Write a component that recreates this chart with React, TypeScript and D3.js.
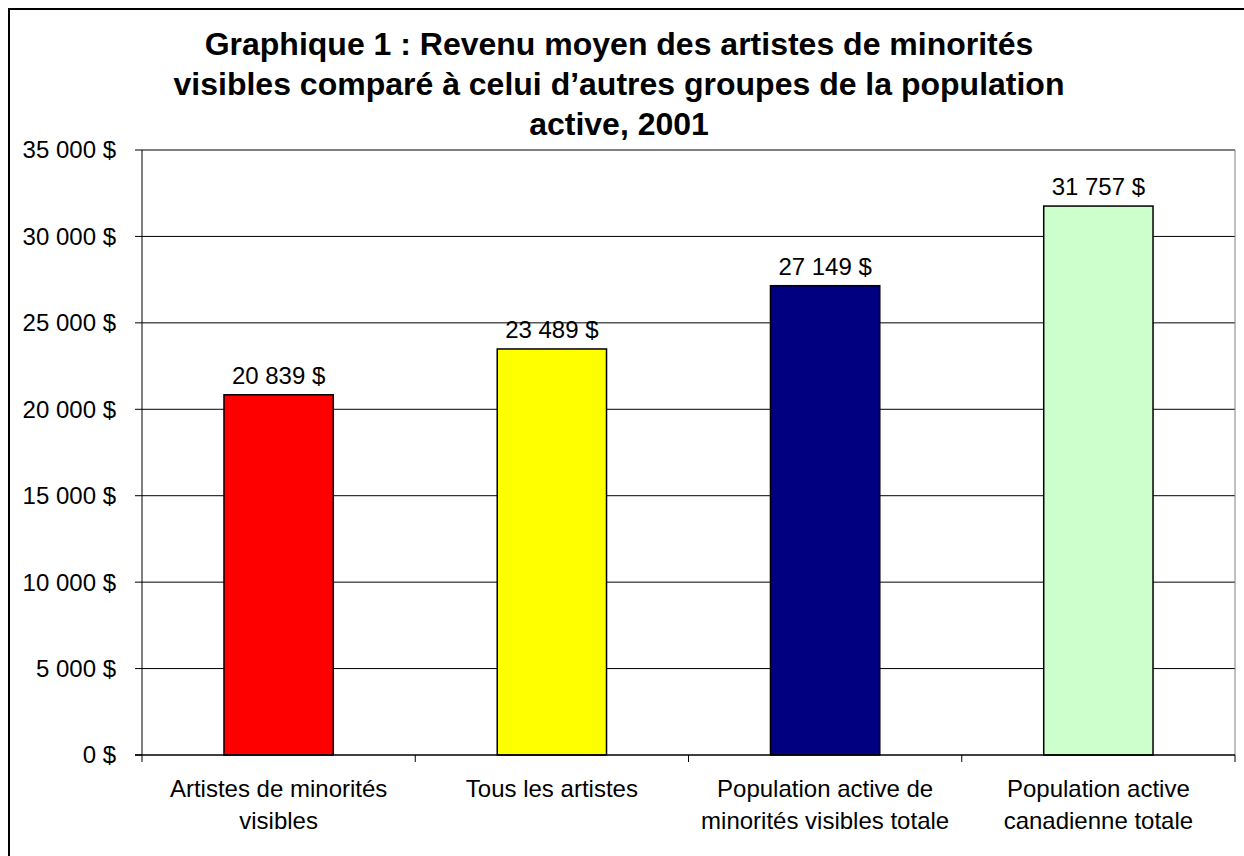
import * as d3 from "d3";

// Data
const categories = [
  ["Artistes de minorités", "visibles"],
  ["Tous les artistes"],
  ["Population active de", "minorités visibles totale"],
  ["Population active", "canadienne totale"],
];
const incomes = [20839, 23489, 27149, 31757];
const barColors = ["#FF0000", "#FFFF00", "#000080", "#CCFFCC"];
const yTicks = [0, 5000, 10000, 15000, 20000, 25000, 30000, 35000];
const titleLines = [
  "Graphique 1 : Revenu moyen des artistes de minorités",
  "visibles comparé à celui d’autres groupes de la population",
  "active, 2001",
];

const W = 1244;
const H = 856;
const plot = { left: 142, right: 1235, top: 150, bottom: 755 };
const font = "Arial, 'Liberation Sans', sans-serif";

const fmt = (v: number) =>
  String(v).replace(/\B(?=(\d{3})+(?!\d))/g, " ") + " $";

export default function App() {
  const y = d3.scaleLinear().domain([0, 35000]).range([plot.bottom, plot.top]);
  const x = d3
    .scaleBand<number>()
    .domain(incomes.map((d, i) => i))
    .range([plot.left, plot.right])
    .paddingInner(0.6)
    .paddingOuter(0.3);
  const step = x.step();
  const boundaries = d3.range(categories.length + 1).map((i) => plot.left + i * step);

  return (
    <svg
      width={W}
      height={H}
      style={{ position: "absolute", left: 0, top: 0, background: "#fff" }}
      fontFamily={font}
    >
      {/* chart frame, cut by the picture on the right and bottom */}
      <rect x={9} y={9} width={W + 20} height={H + 20} fill="none" stroke="#000" strokeWidth={2} />

      {/* title */}
      {titleLines.map((t, i) => (
        <text key={i} x={619} y={55 + i * 40} textAnchor="middle" fontSize={32} fontWeight="bold">
          {t}
        </text>
      ))}

      {/* gridlines */}
      {yTicks.slice(1).map((t) => (
        <line key={t} x1={plot.left} x2={plot.right} y1={y(t)} y2={y(t)} stroke="#000" strokeWidth={1} />
      ))}
      {/* plot border top / right */}
      <line x1={plot.left} x2={plot.right} y1={plot.top} y2={plot.top} stroke="#808080" />
      <line x1={plot.right} x2={plot.right} y1={plot.top} y2={plot.bottom} stroke="#808080" />

      {/* bars */}
      {incomes.map((v, i) => (
        <g key={i}>
          <rect
            x={x(i)}
            y={y(v)}
            width={x.bandwidth()}
            height={plot.bottom - y(v)}
            fill={barColors[i]}
            stroke="#000"
            strokeWidth={1.5}
          />
          <text x={(x(i) as number) + x.bandwidth() / 2} y={y(v) - 11} textAnchor="middle" fontSize={24}>
            {fmt(v)}
          </text>
        </g>
      ))}

      {/* y axis */}
      <line x1={plot.left} x2={plot.left} y1={plot.top} y2={plot.bottom} stroke="#000" />
      {yTicks.map((t) => (
        <g key={t}>
          <line x1={plot.left - 7} x2={plot.left} y1={y(t)} y2={y(t)} stroke="#000" />
          <text x={116} y={y(t)} dy="0.35em" textAnchor="end" fontSize={24}>
            {fmt(t)}
          </text>
        </g>
      ))}

      {/* x axis */}
      <line x1={plot.left - 7} x2={plot.right} y1={plot.bottom} y2={plot.bottom} stroke="#000" strokeWidth={1.5} />
      {boundaries.map((bx, i) => (
        <line key={i} x1={bx} x2={bx} y1={plot.bottom} y2={plot.bottom + 7} stroke="#000" />
      ))}
      {categories.map((lines, i) => (
        <text key={i} textAnchor="middle" fontSize={24}>
          {lines.map((l, j) => (
            <tspan key={j} x={(x(i) as number) + x.bandwidth() / 2} y={797 + j * 32}>
              {l}
            </tspan>
          ))}
        </text>
      ))}
    </svg>
  );
}
